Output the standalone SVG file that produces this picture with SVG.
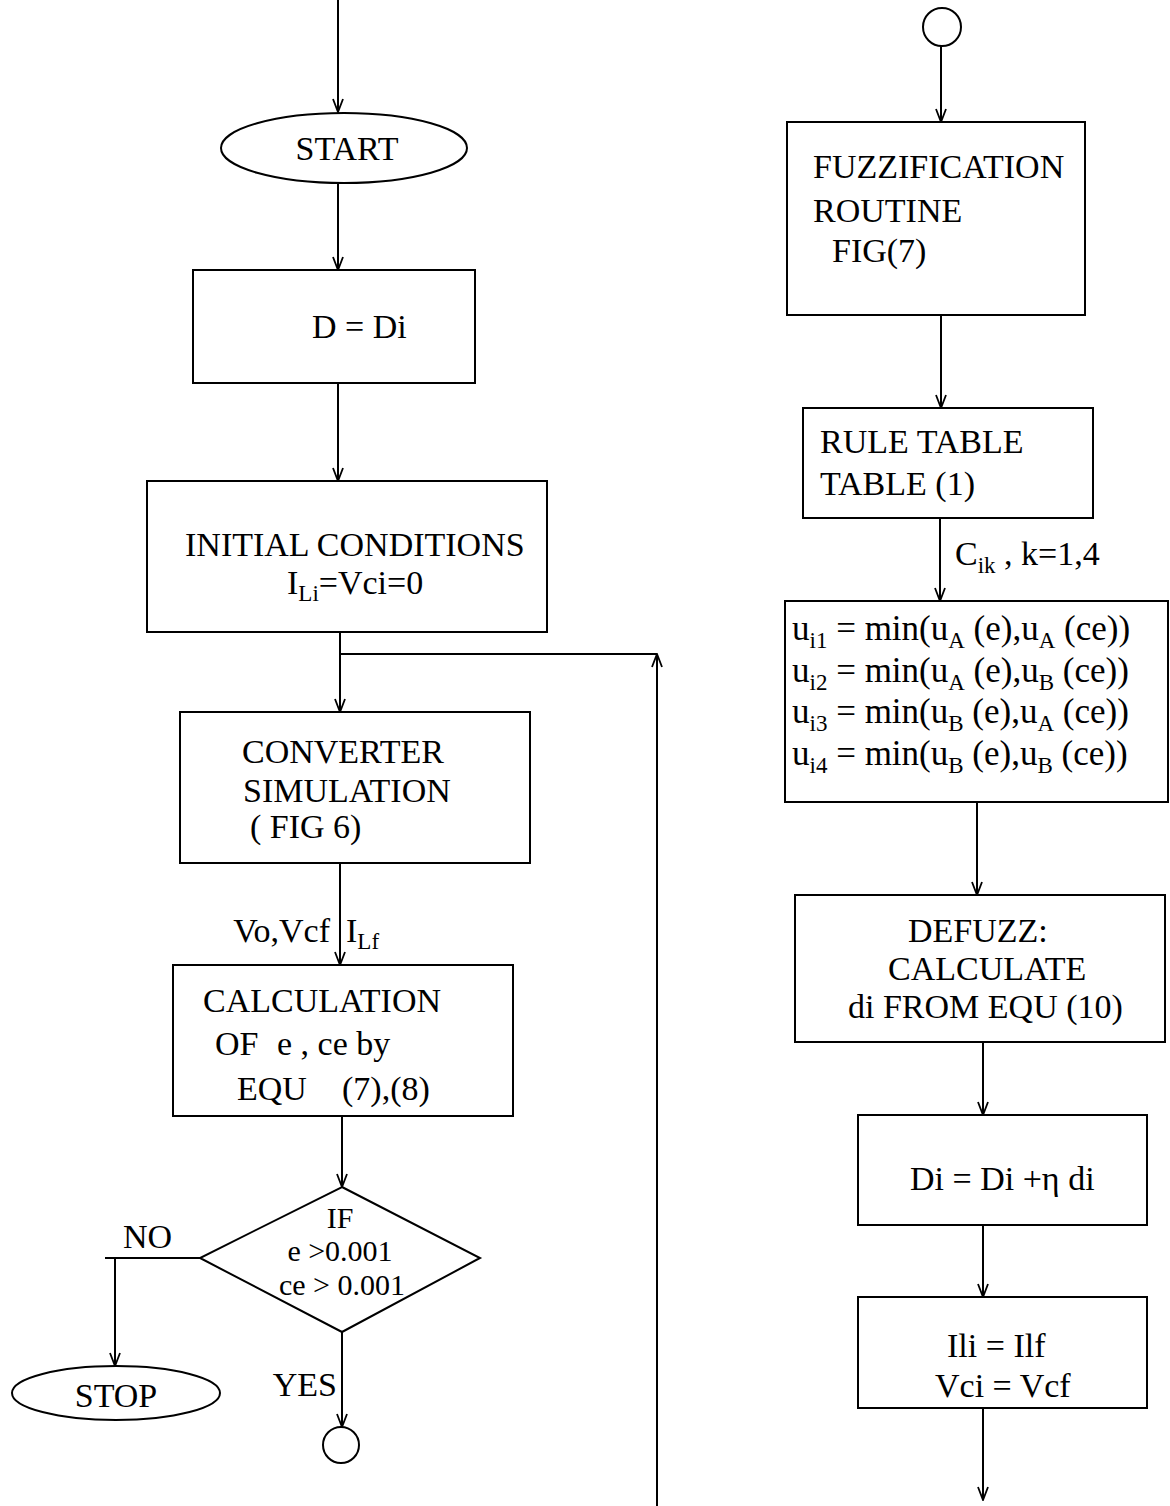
<svg xmlns="http://www.w3.org/2000/svg" width="1170" height="1506" viewBox="0 0 1170 1506">
<style>
.box{fill:none;stroke:#000;stroke-width:2}
.c{fill:none;stroke:#000;stroke-width:2}
.t{font-family:"Liberation Serif","Times New Roman",serif;font-size:34px;fill:#000}
.eq{font-size:35px}
.dia{font-size:30px}
.sub{font-size:23px}
.m{text-anchor:middle}
.e{text-anchor:end}
</style>
<defs>
<marker id="arr" viewBox="-1 -7 15 14" refX="13" refY="0" markerWidth="15" markerHeight="14" markerUnits="userSpaceOnUse" orient="auto">
<path d="M0,-5 L13,0 L0,5" fill="none" stroke="#000" stroke-width="1.8"/>
</marker>
</defs>
<rect width="1170" height="1506" fill="#fff"/>

<g id="connectors">
<path class="c" d="M338,0 L338,112" marker-end="url(#arr)"/>
<path class="c" d="M338,183 L338,270" marker-end="url(#arr)"/>
<path class="c" d="M338,383 L338,481" marker-end="url(#arr)"/>
<path class="c" d="M340,632 L340,712" marker-end="url(#arr)"/>
<path class="c" d="M340,654 L657,654"/>
<path class="c" d="M657,1506 L657,654" marker-end="url(#arr)"/>
<path class="c" d="M340,863 L340,965" marker-end="url(#arr)"/>
<path class="c" d="M342,1116 L342,1187" marker-end="url(#arr)"/>
<path class="c" d="M200,1258 L105,1258"/>
<path class="c" d="M115,1258 L115,1366" marker-end="url(#arr)"/>
<path class="c" d="M342,1332 L342,1427" marker-end="url(#arr)"/>
<path class="c" d="M941,46 L941,122" marker-end="url(#arr)"/>
<path class="c" d="M941,315 L941,408" marker-end="url(#arr)"/>
<path class="c" d="M940,518 L940,601" marker-end="url(#arr)"/>
<path class="c" d="M977,802 L977,895" marker-end="url(#arr)"/>
<path class="c" d="M983,1042 L983,1115" marker-end="url(#arr)"/>
<path class="c" d="M983,1225 L983,1297" marker-end="url(#arr)"/>
<path class="c" d="M983,1408 L983,1500" marker-end="url(#arr)"/>
</g>

<g id="labels" class="t">
<text class="t e" x="330" y="942">Vo,Vcf</text>
<text class="t" x="346" y="942">I<tspan class="sub" dy="7">Lf</tspan></text>
<text class="t" x="123" y="1248">NO</text>
<text class="t e" x="337" y="1396">YES</text>
<text class="t" x="955" y="565">C<tspan class="sub" dy="8">ik</tspan><tspan dy="-8"> , k=1,4</tspan></text>
</g>

<g id="start">
<ellipse class="box" cx="344" cy="148" rx="123" ry="35"/>
<text class="t m" x="347" y="160">START</text>
</g>

<g id="d-init">
<rect class="box" x="193" y="270" width="282" height="113"/>
<text class="t" x="312" y="338">D = Di</text>
</g>

<g id="initial">
<rect class="box" x="147" y="481" width="400" height="151"/>
<text class="t" x="185" y="556">INITIAL CONDITIONS</text>
<text class="t" x="287" y="594">I<tspan class="sub" dy="7">Li</tspan><tspan dy="-7">=Vci=0</tspan></text>
</g>

<g id="converter">
<rect class="box" x="180" y="712" width="350" height="151"/>
<text class="t" x="242" y="763">CONVERTER</text>
<text class="t" x="243" y="802">SIMULATION</text>
<text class="t" x="250" y="838">( FIG 6)</text>
</g>

<g id="calculation">
<rect class="box" x="173" y="965" width="340" height="151"/>
<text class="t" x="203" y="1012">CALCULATION</text>
<text class="t" x="215" y="1055">OF</text>
<text class="t" x="277" y="1055">e , ce by</text>
<text class="t" x="237" y="1100">EQU</text>
<text class="t" x="342" y="1100">(7),(8)</text>
</g>

<g id="decision">
<polygon class="box" points="342,1187 480,1258 342,1332 200,1258"/>
<text class="t dia m" x="340" y="1228">IF</text>
<text class="t dia m" x="340" y="1261">e &gt;0.001</text>
<text class="t dia m" x="342" y="1295">ce &gt; 0.001</text>
</g>

<g id="stop">
<ellipse class="box" cx="116" cy="1393" rx="104" ry="27"/>
<text class="t m" x="116" y="1407">STOP</text>
</g>

<g id="connector-out">
<circle class="box" cx="341" cy="1445" r="18"/>
</g>

<g id="connector-in">
<circle class="box" cx="942" cy="27" r="19"/>
</g>

<g id="fuzzification">
<rect class="box" x="787" y="122" width="298" height="193"/>
<text class="t" x="813" y="178">FUZZIFICATION</text>
<text class="t" x="813" y="222">ROUTINE</text>
<text class="t" x="832" y="262">FIG(7)</text>
</g>

<g id="rule-table">
<rect class="box" x="803" y="408" width="290" height="110"/>
<text class="t" x="820" y="453">RULE TABLE</text>
<text class="t" x="820" y="495">TABLE (1)</text>
</g>

<g id="min-rules">
<rect class="box" x="785" y="601" width="383" height="201"/>
<text class="t eq" x="792" y="640">u<tspan class="sub" dy="8">i1</tspan><tspan dy="-8"> = min(u</tspan><tspan class="sub" dy="8">A</tspan><tspan dy="-8"> (e),u</tspan><tspan class="sub" dy="8">A</tspan><tspan dy="-8"> (ce))</tspan></text>
<text class="t eq" x="792" y="682">u<tspan class="sub" dy="8">i2</tspan><tspan dy="-8"> = min(u</tspan><tspan class="sub" dy="8">A</tspan><tspan dy="-8"> (e),u</tspan><tspan class="sub" dy="8">B</tspan><tspan dy="-8"> (ce))</tspan></text>
<text class="t eq" x="792" y="723">u<tspan class="sub" dy="8">i3</tspan><tspan dy="-8"> = min(u</tspan><tspan class="sub" dy="8">B</tspan><tspan dy="-8"> (e),u</tspan><tspan class="sub" dy="8">A</tspan><tspan dy="-8"> (ce))</tspan></text>
<text class="t eq" x="792" y="765">u<tspan class="sub" dy="8">i4</tspan><tspan dy="-8"> = min(u</tspan><tspan class="sub" dy="8">B</tspan><tspan dy="-8"> (e),u</tspan><tspan class="sub" dy="8">B</tspan><tspan dy="-8"> (ce))</tspan></text>
</g>

<g id="defuzz">
<rect class="box" x="795" y="895" width="370" height="147"/>
<text class="t" x="908" y="942">DEFUZZ:</text>
<text class="t" x="888" y="980">CALCULATE</text>
<text class="t" x="848" y="1018">di FROM EQU (10)</text>
</g>

<g id="update-d">
<rect class="box" x="858" y="1115" width="289" height="110"/>
<text class="t" x="910" y="1190">Di = Di +η di</text>
</g>

<g id="update-state">
<rect class="box" x="858" y="1297" width="289" height="111"/>
<text class="t" x="947" y="1357">Ili = Ilf</text>
<text class="t" x="935" y="1397">Vci = Vcf</text>
</g>
</svg>
